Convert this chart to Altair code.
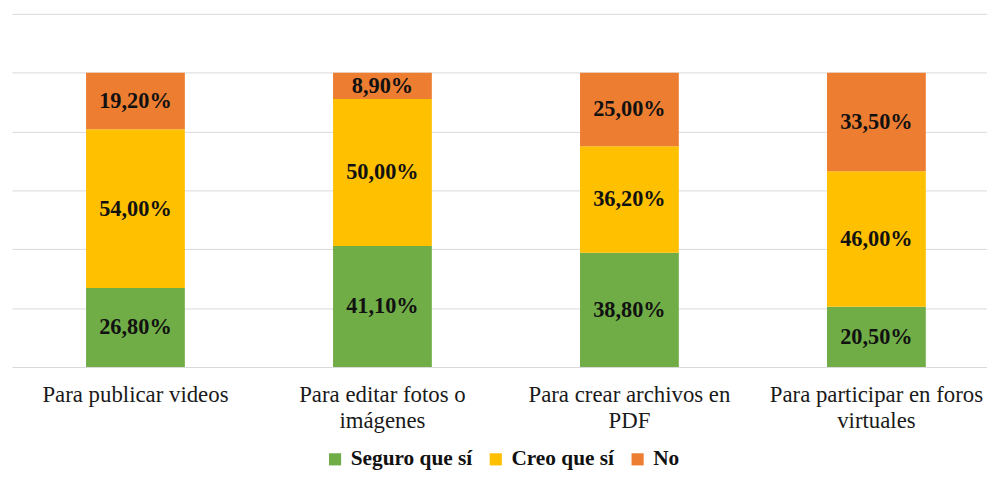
import altair as alt
import pandas as pd

categories = ["Para publicar videos", "Para editar fotos o imágenes",
              "Para crear archivos en PDF", "Para participar en foros virtuales"]
label_lines = [["Para publicar videos"], ["Para editar fotos o", "imágenes"],
               ["Para crear archivos en", "PDF"], ["Para participar en foros", "virtuales"]]
series = ["Seguro que sí", "Creo que sí", "No"]
seguro = [26.8, 41.1, 38.8, 20.5]
creo = [54.0, 50.0, 36.2, 46.0]
no = [19.2, 8.9, 25.0, 33.5]
colors = ["#70AD47", "#FFC000", "#ED7D31"]
y_ticks = [0, 20, 40, 60, 80, 100, 120]

rows = []
for si, (s, vals) in enumerate(zip(series, [seguro, creo, no])):
    for c, v in zip(categories, vals):
        rows.append({"cat": c, "serie": s, "ord": si, "value": v,
                     "label": f"{v:.2f}".replace(".", ",") + "%"})
df = pd.DataFrame(rows)

expr_parts = []
for c, lines in zip(categories, label_lines):
    arr = "[" + ",".join("'" + l + "'" for l in lines) + "]"
    expr_parts.append(f"datum.label == '{c}' ? {arr} : ")
label_expr = "".join(expr_parts) + "datum.label"

FONT = "'Liberation Serif', 'Times New Roman', Times, serif"

x = alt.X("cat:N", sort=categories, title=None,
          scale=alt.Scale(paddingInner=0.6, paddingOuter=0.3, range=[0, 996]),
          axis=alt.Axis(labelAngle=0, ticks=False, domain=False, labelFont=FONT,
                        labelFontSize=23, labelColor="#1a1a1a", labelPadding=17,
                        labelLineHeight=26, labelExpr=label_expr, labelLimit=400))

y = alt.Y("y0:Q", title=None,
          scale=alt.Scale(domain=[0, 120], nice=False),
          axis=alt.Axis(values=y_ticks, labels=False, ticks=False, domain=False,
                        grid=True, gridColor="#d9d9d9", gridWidth=1))

base = alt.Chart(df).transform_stack(
    stack="value", as_=["y0", "y1"], groupby=["cat"],
    sort=[alt.SortField("ord", order="ascending")]
).transform_calculate(mid="(datum.y0 + datum.y1) / 2")

bars = base.mark_bar().encode(
    x=x, y=y, y2="y1:Q",
    color=alt.Color("serie:N", sort=series,
                    scale=alt.Scale(domain=series, range=colors),
                    legend=alt.Legend(title=None, orient="none", direction="horizontal",
                                      legendX=315, legendY=438, symbolType="square",
                                      symbolSize=150, symbolStrokeWidth=0,
                                      labelFont=FONT, labelFontSize=21.5,
                                      labelFontWeight="bold", labelColor="#111",
                                      columnPadding=12, labelOffset=5,
                                      symbolOpacity=1))
)

texts = base.mark_text(font=FONT, fontSize=22.5, fontWeight="bold", color="#111",
                       baseline="middle").encode(
    x=alt.X("cat:N", sort=categories),
    y=alt.Y("mid:Q"),
    text="label:N"
)

chart = alt.layer(bars, texts).properties(
    width=983, height=356,
    autosize=alt.AutoSizeParams(type="none"),
    padding={"left": 4, "top": 4, "right": 0, "bottom": 105}
).configure(
    background="white",
    view=alt.ViewConfig(stroke="transparent", strokeWidth=0)
)

chart.save("out.html", embed_options={"renderer": "svg", "actions": False})
